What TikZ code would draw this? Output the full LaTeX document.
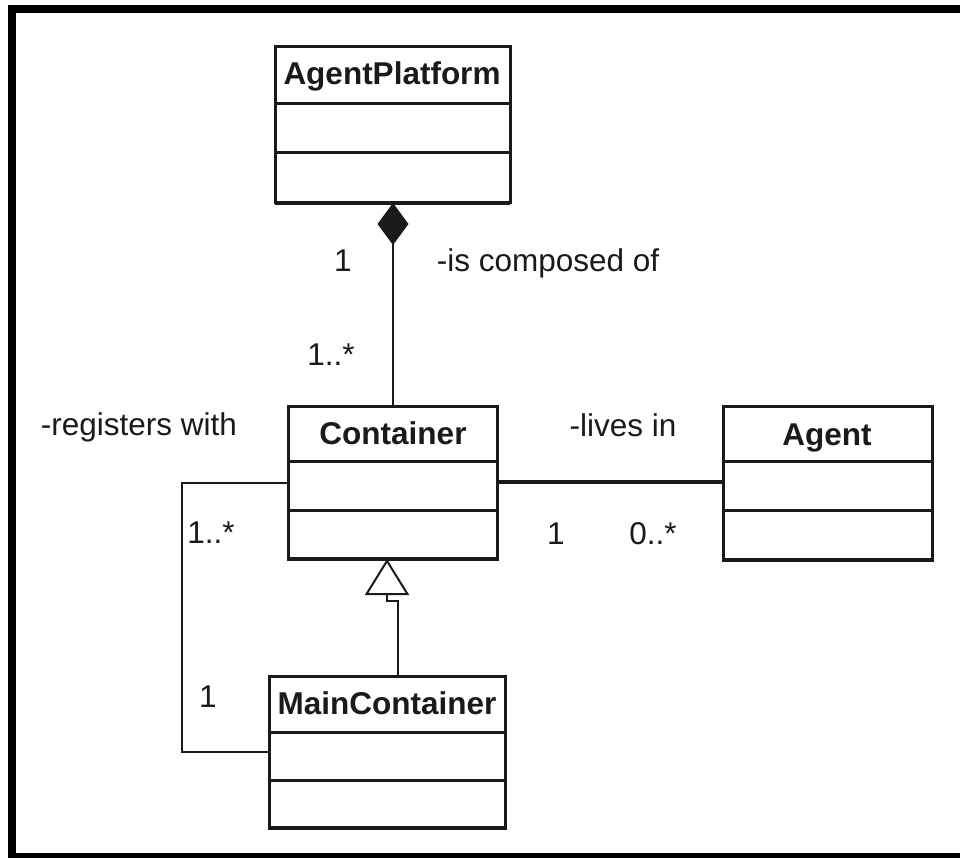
\documentclass[tikz,border=0pt]{standalone}
\usepackage{fontspec}
\setmainfont{Liberation Sans}
\usetikzlibrary{arrows.meta}
\definecolor{ink}{HTML}{1A1A1A}
\begin{document}
\begin{tikzpicture}[x=1pt,y=-1pt,
  cls/.style={draw=ink, line width=3pt, rectangle, inner sep=0pt, outer sep=0pt, fill=white},
  divider/.style={draw=ink, line width=3pt},
  clsname/.style={anchor=base, inner sep=0pt, font=\fontsize{31.5}{36}\selectfont\bfseries, text=ink},
  lbl/.style={anchor=base, inner sep=0pt, font=\fontsize{31.5}{36}\selectfont, text=ink},
  assoc/.style={draw=ink, line width=2pt},
  strongassoc/.style={draw=ink, line width=4pt},
  compo/.style={draw=ink, line width=2pt, -{Diamond[length=42pt,width=31pt,fill=ink]}},
  gener/.style={draw=ink, line width=2pt, -{Triangle[open,length=36pt,width=44pt,fill=white]}}
]
\useasboundingbox (0,0) rectangle (960,858);
% frame
\fill[black] (8,5) rectangle (960,858);
\fill[white] (16,13) rectangle (960,853);

% classes
\node[cls, minimum width=235pt, minimum height=156pt] (ap) at (392.5,125) {};
\draw[divider] (ap.west |- 0,104) -- (ap.east |- 0,104);
\draw[divider] (ap.west |- 0,153) -- (ap.east |- 0,153);
\draw[ink, line width=4.5pt] (ap.south west) -- (ap.south east);
\node[clsname] (apname) at (392,85) {AgentPlatform};

\node[cls, minimum width=209pt, minimum height=153pt] (ct) at (392.5,482.5) {};
\draw[divider] (ct.west |- 0,461) -- (ct.east |- 0,461);
\draw[divider] (ct.west |- 0,510) -- (ct.east |- 0,510);
\draw[ink, line width=4.5pt] (ct.south west) -- (ct.south east);
\node[clsname] (ctname) at (393,444) {Container};

\node[cls, minimum width=209pt, minimum height=154pt] (ag) at (827.5,483) {};
\draw[divider] (ag.west |- 0,461) -- (ag.east |- 0,461);
\draw[divider] (ag.west |- 0,510) -- (ag.east |- 0,510);
\draw[ink, line width=4.5pt] (ag.south west) -- (ag.south east);
\node[clsname] (agname) at (827,445) {Agent};

\node[cls, minimum width=236pt, minimum height=152pt] (mc) at (387,752) {};
\draw[divider] (mc.west |- 0,732) -- (mc.east |- 0,732);
\draw[divider] (mc.west |- 0,780) -- (mc.east |- 0,780);
\draw[ink, line width=4.5pt] (mc.south west) -- (mc.south east);
\node[clsname] (mcname) at (387,714) {MainContainer};

% connectors
\draw[compo] (ct.north -| 393,0) -- (ap.south -| 393,0);
\draw[strongassoc] (ct.east |- 0,482) -- (ag.west |- 0,482);
\draw[assoc] (ct.west |- 0,483) -- ++(-106,0) |- (mc.west |- 0,752);
\draw[gener] (mc.north -| 398,0) -- (398,601) -- (387,601) -- (ct.south -| 387,0);

% labels
\node[lbl] (m1) at (343,272) {1};
\node[lbl] (composed) at (548,272) {-is composed of};
\node[lbl] (m2) at (331,365) {1..*};
\node[lbl] (registers) at (139,435) {-registers with};
\node[lbl] (m3) at (211,543) {1..*};
\node[lbl] (m4) at (208,707) {1};
\node[lbl] (lives) at (623,436) {-lives in};
\node[lbl] (m5) at (556,544) {1};
\node[lbl] (m6) at (653,544) {0..*};
\end{tikzpicture}
\end{document}
